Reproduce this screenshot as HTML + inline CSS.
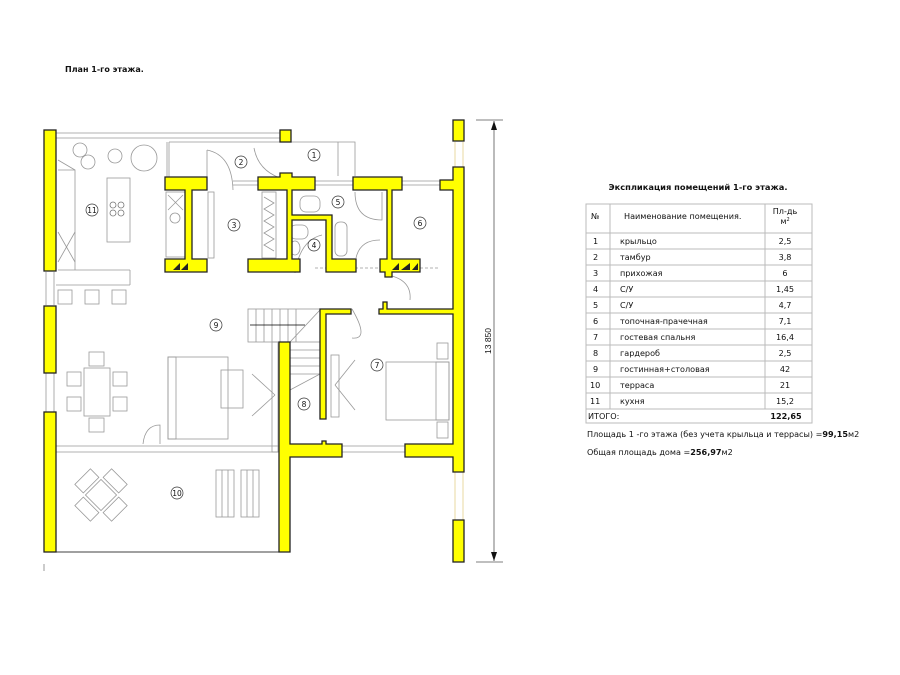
<!DOCTYPE html>
<html><head><meta charset="utf-8"><style>
html,body{margin:0;padding:0;background:#fff}
svg{display:block}
text{font-family:"DejaVu Sans","Liberation Sans",sans-serif;fill:#111}
</style></head><body>
<svg width="900" height="675" viewBox="0 0 900 675" xmlns="http://www.w3.org/2000/svg">
<text x="65" y="72" font-size="8" font-weight="bold">План  1-го этажа.</text>

<g fill="none" stroke="#999" stroke-width="0.8">
  <line x1="56" y1="133" x2="280" y2="133"/><line x1="56" y1="138" x2="280" y2="138"/>
  <polyline points="291,142 355,142 355,176"/><line x1="338" y1="142" x2="338" y2="176"/>
  <line x1="167" y1="142" x2="167" y2="177"/><line x1="169" y1="142" x2="169" y2="177"/>
  <line x1="169" y1="142" x2="280" y2="142"/>
  <line x1="233" y1="181" x2="258" y2="181"/><line x1="233" y1="185" x2="258" y2="185"/>
  <line x1="315" y1="181" x2="353" y2="181"/><line x1="315" y1="185" x2="353" y2="185"/>
  <line x1="402" y1="181" x2="440" y2="181"/><line x1="402" y1="185" x2="440" y2="185"/>
  <line x1="58" y1="160" x2="75" y2="170"/><polyline points="58,170 75,170 75,270"/>
  <rect x="107" y="178" width="23" height="64"/>
  <line x1="58" y1="270" x2="130" y2="270"/><line x1="130" y1="270" x2="130" y2="285"/><line x1="56" y1="285" x2="130" y2="285"/>
  <line x1="58" y1="232" x2="75" y2="262"/><line x1="75" y1="232" x2="58" y2="262"/>
  <rect x="58" y="290" width="14" height="14"/><rect x="85" y="290" width="14" height="14"/><rect x="112" y="290" width="14" height="14"/>
  <rect x="166" y="192" width="19" height="65"/>
  <line x1="168" y1="195" x2="183" y2="210"/><line x1="183" y1="195" x2="168" y2="210"/>
  <circle cx="175" cy="218" r="5"/>
  <rect x="262" y="192" width="14" height="66"/>
  <polyline points="264,197 274,203 264,209 274,215 264,221 274,227 264,233 274,239 264,245 274,251"/>
  <rect x="208" y="192" width="6" height="66"/>
  <rect x="300" y="196" width="20" height="16" rx="6"/><rect x="290" y="225" width="18" height="14" rx="6"/>
  <ellipse cx="295" cy="248" rx="5" ry="7"/>
  <rect x="335" y="222" width="12" height="34" rx="5"/>
  <path d="M355,192 Q355,220 382,220 L382,192"/>
  <path d="M207,150 Q232,155 233,190"/><line x1="207" y1="150" x2="207" y2="177"/>
  <path d="M254,148 Q258,170 280,178"/>
  <path d="M295,273 Q300,240 322,235"/><path d="M356,258 Q360,240 380,240"/>
  <path d="M388,275 Q412,280 410,300"/>
  <path d="M352,309 Q370,340 352,338"/>
  <line x1="315" y1="268" x2="440" y2="268" stroke-dasharray="3,2"/>
  <rect x="248" y="309" width="72" height="33"/>
  <line x1="256" y1="309" x2="256" y2="342"/><line x1="264" y1="309" x2="264" y2="342"/><line x1="272" y1="309" x2="272" y2="342"/><line x1="280" y1="309" x2="280" y2="342"/><line x1="288" y1="309" x2="288" y2="342"/><line x1="296" y1="309" x2="296" y2="342"/>
  <line x1="290" y1="350" x2="320" y2="350"/><line x1="290" y1="358" x2="320" y2="358"/><line x1="290" y1="366" x2="320" y2="366"/><line x1="290" y1="374" x2="320" y2="374"/>
  <line x1="290" y1="342" x2="320" y2="310"/><line x1="290" y1="390" x2="320" y2="374"/>
  <line x1="250" y1="325" x2="305" y2="325" stroke="#000"/>
  <rect x="168" y="357" width="60" height="82"/><rect x="168" y="357" width="8" height="82"/>
  <rect x="221" y="370" width="22" height="38"/>
  <rect x="272" y="342" width="6" height="110"/>
  <line x1="252" y1="374" x2="275" y2="395"/><line x1="275" y1="395" x2="252" y2="416"/>
  <rect x="331" y="355" width="8" height="62"/>
  <line x1="355" y1="360" x2="335" y2="385"/><line x1="335" y1="385" x2="355" y2="410"/>
  <rect x="84" y="368" width="26" height="48"/>
  <rect x="89" y="352" width="15" height="14"/><rect x="89" y="418" width="15" height="14"/>
  <rect x="67" y="372" width="14" height="14"/><rect x="67" y="397" width="14" height="14"/>
  <rect x="113" y="372" width="14" height="14"/><rect x="113" y="397" width="14" height="14"/>
  <rect x="386" y="362" width="63" height="58"/><rect x="436" y="362" width="13" height="58"/>
  <rect x="437" y="343" width="11" height="16"/><rect x="437" y="422" width="11" height="16"/>
  <line x1="56" y1="446" x2="279" y2="446"/><line x1="56" y1="452" x2="279" y2="452"/>
  <line x1="342" y1="446" x2="405" y2="446"/><line x1="342" y1="452" x2="405" y2="452"/>
  <path d="M143,444 Q145,425 160,425 L160,444"/>
  <line x1="56" y1="552" x2="279" y2="552" stroke="#000"/>
  <g transform="translate(101,495) rotate(45)"><rect x="-11" y="-11" width="22" height="22"/><rect x="-11" y="-26" width="22" height="12"/><rect x="-11" y="14" width="22" height="12"/><rect x="-26" y="-11" width="12" height="22"/><rect x="14" y="-11" width="12" height="22"/></g>
  <rect x="216" y="470" width="18" height="47"/><rect x="241" y="470" width="18" height="47"/>
  <line x1="222" y1="470" x2="222" y2="517"/><line x1="228" y1="470" x2="228" y2="517"/><line x1="247" y1="470" x2="247" y2="517"/><line x1="253" y1="470" x2="253" y2="517"/>
  <circle cx="80" cy="150" r="7"/><circle cx="88" cy="162" r="7"/><circle cx="115" cy="156" r="7"/><circle cx="144" cy="158" r="13"/>
  <line x1="46" y1="272" x2="46" y2="305"/><line x1="54" y1="272" x2="54" y2="305"/>
  <line x1="46" y1="373" x2="46" y2="412"/><line x1="54" y1="373" x2="54" y2="412"/>
</g>
<g fill="none" stroke="#777" stroke-width="0.8"><circle cx="113" cy="205" r="3"/><circle cx="121" cy="205" r="3"/><circle cx="113" cy="213" r="3"/><circle cx="121" cy="213" r="3"/></g>
<g stroke="#e8d8a0" stroke-width="1"><line x1="455" y1="142" x2="455" y2="168"/><line x1="463" y1="142" x2="463" y2="168"/><line x1="455" y1="472" x2="455" y2="520"/><line x1="463" y1="472" x2="463" y2="520"/></g>

<g fill="#ffff00" stroke="#222" stroke-width="1.3">
  <rect x="44" y="130" width="12" height="141"/>
  <rect x="44" y="306" width="12" height="67"/>
  <rect x="44" y="412" width="12" height="140"/>
  <rect x="280" y="130" width="11" height="12"/>
  <rect x="453" y="120" width="11" height="21"/>
  <rect x="453" y="520" width="11" height="42"/>
  <polygon points="453,167 464,167 464,472 453,472 453,457 405,457 405,444 453,444 453,314 379,314 379,309 383,309 383,302 387,302 387,309 453,309 453,190 440,190 440,180 453,180"/>
  <polygon points="165,177 207,177 207,190 192,190 192,259 207,259 207,272 165,272 165,259 185,259 185,190 165,190"/>
  <polygon points="258,177 280,177 280,173 292,173 292,177 315,177 315,190 292,190 292,215 332,215 332,259 356,259 356,272 326,272 326,220 292,220 292,259 300,259 300,272 248,272 248,259 287,259 287,190 258,190"/>
  <polygon points="353,177 402,177 402,190 392,190 392,259 420,259 420,272 392,272 392,277 385,277 385,272 380,272 380,259 387,259 387,190 353,190"/>
  <polygon points="320,309 351,309 351,314 326,314 326,419 320,419"/>
  <polygon points="279,342 290,342 290,444 322,444 322,441 326,441 326,444 342,444 342,457 290,457 290,552 279,552"/>
</g>
<g fill="#222"><polygon points="173,270 180,263 180,270"/><polygon points="181,270 188,263 188,270"/><polygon points="392,270 399,263 399,270"/><polygon points="401,270 410,263 410,270"/><polygon points="412,270 418,263 418,270"/></g>

<g fill="none" stroke="#333" stroke-width="0.7">
<circle cx="314" cy="155" r="6"/><circle cx="241" cy="162" r="6"/><circle cx="234" cy="225" r="6"/><circle cx="314" cy="245" r="6"/><circle cx="338" cy="202" r="6"/><circle cx="420" cy="223" r="6"/><circle cx="377" cy="365" r="6"/><circle cx="304" cy="404" r="6"/><circle cx="216" cy="325" r="6"/><circle cx="177" cy="493" r="6"/><circle cx="92" cy="210" r="6"/>
</g>
<g font-size="7.5" text-anchor="middle">
<text x="314" y="158">1</text><text x="241" y="165">2</text><text x="234" y="228">3</text><text x="314" y="248">4</text><text x="338" y="205">5</text><text x="420" y="226">6</text><text x="377" y="368">7</text><text x="304" y="407">8</text><text x="216" y="328">9</text><text x="177" y="496">10</text><text x="92" y="213">11</text>
</g>

<g stroke="#555" stroke-width="0.8"><line x1="494" y1="121" x2="494" y2="561"/><line x1="476" y1="120" x2="503" y2="120"/><line x1="476" y1="562" x2="503" y2="562"/></g>
<polygon points="491,130 494,121 497,130" fill="#111"/><polygon points="491,552 494,561 497,552" fill="#111"/>
<text x="494" y="341" font-size="8.5" text-anchor="middle" transform="rotate(-90 494 341)" dy="-3" style="font-family:'Liberation Sans',sans-serif">13 850</text>
<line x1="44" y1="564" x2="44" y2="571" stroke="#999"/>

<text x="698" y="190" font-size="8.3" font-weight="bold" text-anchor="middle">Экспликация помещений 1-го этажа.</text>
<g stroke="#bbb" stroke-width="1" fill="none">
<rect x="586" y="204" width="226" height="219"/>
<line x1="610" y1="204" x2="610" y2="409"/><line x1="765" y1="204" x2="765" y2="409"/>
<line x1="586" y1="233" x2="812" y2="233"/><line x1="586" y1="249" x2="812" y2="249"/><line x1="586" y1="265" x2="812" y2="265"/><line x1="586" y1="281" x2="812" y2="281"/><line x1="586" y1="297" x2="812" y2="297"/><line x1="586" y1="313" x2="812" y2="313"/><line x1="586" y1="329" x2="812" y2="329"/><line x1="586" y1="345" x2="812" y2="345"/><line x1="586" y1="361" x2="812" y2="361"/><line x1="586" y1="377" x2="812" y2="377"/><line x1="586" y1="393" x2="812" y2="393"/><line x1="586" y1="409" x2="812" y2="409"/>
</g>
<g font-size="8.1">
<text x="591" y="219">№</text><text x="624" y="219">Наименование помещения.</text>
<text x="785" y="214" text-anchor="middle">Пл-дь</text><text x="785" y="224" text-anchor="middle">м<tspan font-size="5" dy="-3">2</tspan></text>
<text x="593" y="244">1</text><text x="620" y="244">крыльцо</text><text x="785" y="244" text-anchor="middle">2,5</text>
<text x="593" y="260">2</text><text x="620" y="260">тамбур</text><text x="785" y="260" text-anchor="middle">3,8</text>
<text x="593" y="276">3</text><text x="620" y="276">прихожая</text><text x="785" y="276" text-anchor="middle">6</text>
<text x="593" y="292">4</text><text x="620" y="292">С/У</text><text x="785" y="292" text-anchor="middle">1,45</text>
<text x="593" y="308">5</text><text x="620" y="308">С/У</text><text x="785" y="308" text-anchor="middle">4,7</text>
<text x="593" y="324">6</text><text x="620" y="324">топочная-прачечная</text><text x="785" y="324" text-anchor="middle">7,1</text>
<text x="593" y="340">7</text><text x="620" y="340">гостевая спальня</text><text x="785" y="340" text-anchor="middle">16,4</text>
<text x="593" y="356">8</text><text x="620" y="356">гардероб</text><text x="785" y="356" text-anchor="middle">2,5</text>
<text x="593" y="372">9</text><text x="620" y="372">гостинная+столовая</text><text x="785" y="372" text-anchor="middle">42</text>
<text x="590" y="388">10</text><text x="620" y="388">терраса</text><text x="785" y="388" text-anchor="middle">21</text>
<text x="590" y="404">11</text><text x="620" y="404">кухня</text><text x="785" y="404" text-anchor="middle">15,2</text>
<text x="588" y="419">ИТОГО:</text><text x="786" y="419" text-anchor="middle" font-weight="bold">122,65</text>
<text x="587" y="437">Площадь 1 -го этажа (без учета крыльца и террасы) =<tspan font-weight="bold">99,15</tspan>м2</text>
<text x="587" y="455">Общая площадь дома =<tspan font-weight="bold">256,97</tspan>м2</text>
</g>
</svg>
</body></html>
